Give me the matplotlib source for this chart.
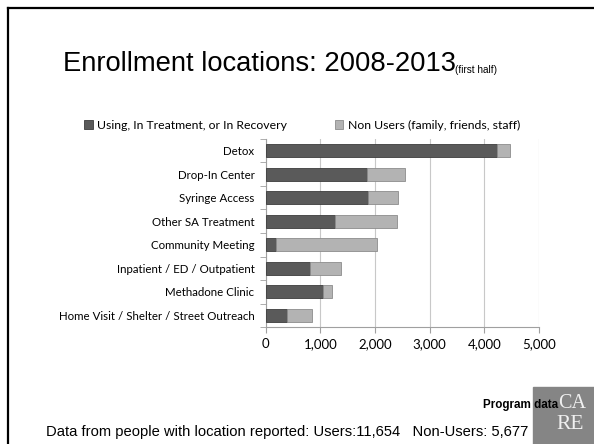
import matplotlib
matplotlib.use('Agg')
import matplotlib.pyplot as plt
from matplotlib.lines import Line2D
from matplotlib.patches import Rectangle
from matplotlib.ticker import FuncFormatter

categories = ['Detox', 'Drop-In Center', 'Syringe Access', 'Other SA Treatment',
              'Community Meeting', 'Inpatient / ED / Outpatient', 'Methadone Clinic',
              'Home Visit / Shelter / Street Outreach']
users = [4223, 1861, 1874, 1264, 183, 806, 1050, 385]
non_users = [239, 696, 549, 1135, 1861, 568, 170, 469]
xticks = [0, 1000, 2000, 3000, 4000, 5000]

W, H = 594, 444
fig = plt.figure(figsize=(W / 100, H / 100), dpi=100)

# slide border (top and left visible)
fig.add_artist(Line2D([7.5 / W, 1], [1 - 8.5 / H, 1 - 8.5 / H], color='black', lw=1.6))
fig.add_artist(Line2D([7.5 / W, 7.5 / W], [0, 1 - 8.5 / H], color='black', lw=1.6))

# title
fig.text(63 / W, 1 - 64 / H, 'Enrollment locations: 2008-2013', family='Liberation Sans',
         fontsize=19.7, va='center', ha='left')
fig.text(455 / W, 1 - 73 / H, '(first half)', family='Liberation Sans', fontsize=7.2,
         va='baseline', ha='left')

ax = fig.add_axes([265.6 / W, 117 / H, 273.4 / W, 188 / H])
ypos = list(range(len(categories)))
ax.barh(ypos, users, height=0.54, color='#5a5a5a', edgecolor='#3c3c3c', lw=0.6,
        label='Using, In Treatment, or In Recovery', zorder=3)
ax.barh(ypos, non_users, left=users, height=0.54, color='#b3b3b3', edgecolor='#8c8c8c',
        lw=0.6, label='Non Users (family, friends, staff)', zorder=3)

ax.set_xlim(0, 5000)
ax.set_ylim(len(categories) - 0.5, -0.5)
ax.set_xticks(xticks)
ax.xaxis.set_major_formatter(FuncFormatter(lambda v, p: f'{int(v):,}'))
ax.set_yticks(ypos)
ax.set_yticklabels(categories)
ax.set_yticks([i - 0.5 for i in range(len(categories) + 1)], minor=True)
ax.tick_params(axis='y', which='major', length=0, pad=8, labelsize=8.3)
ax.tick_params(axis='y', which='minor', length=4, color='#a0a0a0', direction='out')
ax.tick_params(axis='x', length=4, color='#a0a0a0', labelsize=9.5, pad=4)
for lab in ax.get_yticklabels() + ax.get_xticklabels():
    lab.set_family('Lato')
ax.grid(axis='x', color='#c8c8c8', lw=0.8, zorder=0)
for s in ['top', 'right']:
    ax.spines[s].set_visible(False)
for s in ['left', 'bottom']:
    ax.spines[s].set_color('#a0a0a0')
    ax.spines[s].set_linewidth(0.8)

leg = fig.legend(loc='center left', bbox_to_anchor=(84 / W, 1 - 125 / H), ncol=2,
                 frameon=False, prop={'family': 'Lato', 'size': 8.8},
                 handlelength=0.7, handleheight=0.7, handletextpad=0.4, columnspacing=3.85,
                 borderaxespad=0, borderpad=0)

# footer
fig.text(46 / W, 1 - 432 / H,
         'Data from people with location reported: Users:11,654   Non-Users: 5,677',
         family='Liberation Sans', fontsize=10.6, va='center', ha='left')

# logo block
fig.add_artist(Rectangle((533 / W, 0), 61 / W, 57 / H, transform=fig.transFigure,
                         color='#858585', zorder=1))
fig.text(572 / W, 1 - 403 / H, 'CA', family='Liberation Serif', fontsize=14.5, color='#f0f0f0',
         ha='center', va='center', zorder=2)
fig.text(570 / W, 1 - 424 / H, 'RE', family='Liberation Serif', fontsize=15.5, color='#f0f0f0',
         ha='center', va='center', zorder=2)
fig.text(558 / W, 1 - 405 / H, 'Program data', family='Liberation Sans', fontsize=8.4,
         weight='bold', ha='right', va='center', zorder=3)

fig.savefig('out.png', dpi=100)
